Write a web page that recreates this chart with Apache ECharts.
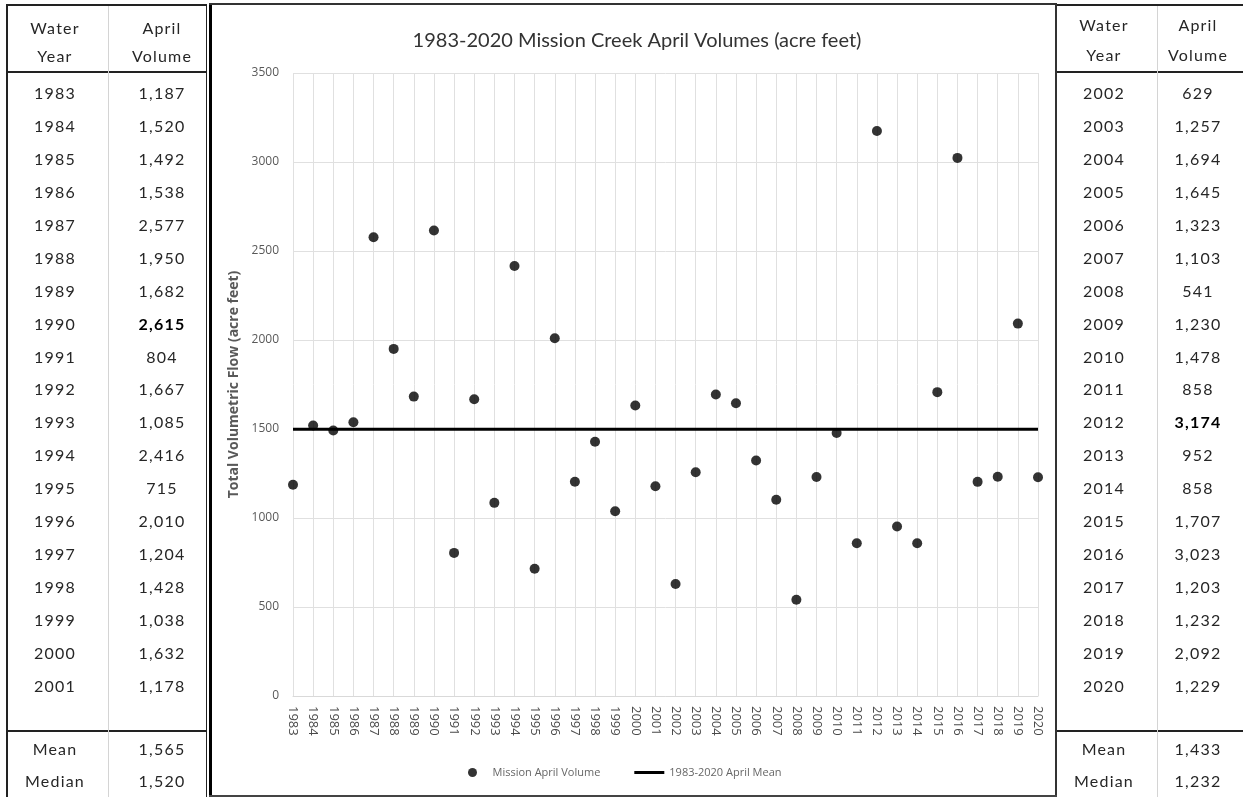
<!DOCTYPE html>
<html>
<head>
<meta charset="utf-8">
<script src="https://cdn.jsdelivr.net/npm/echarts@6/dist/echarts.min.js"></script>
<style>
  html, body { margin: 0; padding: 0; background: #fff; }
  body { width: 1243px; height: 797px; position: relative; overflow: hidden; font-family: Lato, "Open Sans", sans-serif; }
  #chart { position: absolute; left: 0; top: 0; width: 1243px; height: 797px; }
  .ln { position: absolute; background: #222; }
  .lt { position: absolute; background: #d4d4d4; }
  .cell { position: absolute; text-align: center; font-size: 16px; color: #262626; letter-spacing: 1.2px; line-height: 20px; }
  .cell b { font-weight: 700; color: #000; }
</style>
</head>
<body>
<div id="chart"></div>
<div id="tables"></div>
<script>
// water years and april volumes (acre feet)
var years = ['1983','1984','1985','1986','1987','1988','1989','1990','1991','1992',
  '1993','1994','1995','1996','1997','1998','1999','2000','2001','2002','2003',
  '2004','2005','2006','2007','2008','2009','2010','2011','2012','2013','2014',
  '2015','2016','2017','2018','2019','2020'];
var volumes = [1187, 1520, 1492, 1538, 2577, 1950, 1682, 2615, 804, 1667,
  1085, 2416, 715, 2010, 1204, 1428, 1038, 1632, 1178, 629, 1257,
  1694, 1645, 1323, 1103, 541, 1230, 1478, 858, 3174, 952, 858,
  1707, 3023, 1203, 1232, 2092, 1229];
var meanVolume = 1499;
var leftStats = [['Mean', '1,565'], ['Median', '1,520']];
var rightStats = [['Mean', '1,433'], ['Median', '1,232']];
var yTicks = { min: 0, max: 3500, step: 500 };

// ---- tables (html) ----
var box = document.getElementById('tables');
function add(cls, css, html) {
  var d = document.createElement('div');
  d.className = cls;
  d.style.cssText = css;
  if (html != null) d.innerHTML = html;
  box.appendChild(d);
}
function fmt(v) { return v.toLocaleString('en-US'); }

function table(x0, x1, colX, c1, c2, from, to, stats, headTop, headLh) {
  add('ln', 'left:' + x0 + 'px;top:4px;width:' + (x1 - x0) + 'px;height:2px;');
  add('ln', 'left:' + x0 + 'px;top:71px;width:' + (x1 - x0) + 'px;height:2px;');
  add('ln', 'left:' + x0 + 'px;top:730px;width:' + (x1 - x0) + 'px;height:2px;');
  add('lt', 'left:' + colX + 'px;top:6px;width:1px;height:797px;');
  var hs = 'top:' + headTop + 'px;width:100px;line-height:' + headLh + 'px;';
  add('cell', 'left:' + (c1 - 50) + 'px;' + hs, 'Water<br>Year');
  add('cell', 'left:' + (c2 - 50) + 'px;' + hs, 'April<br>Volume');
  var sub = volumes.slice(from, to);
  var mx = Math.max.apply(null, sub);
  for (var i = from; i < to; i++) {
    var y = 93 + (i - from) * 32.94 - 10;
    var v = fmt(volumes[i]);
    add('cell', 'left:' + (c1 - 50) + 'px;top:' + y + 'px;width:100px;', years[i]);
    add('cell', 'left:' + (c2 - 50) + 'px;top:' + y + 'px;width:100px;', volumes[i] === mx ? '<b>' + v + '</b>' : v);
  }
  stats.forEach(function (s, k) {
    var y = 749 + k * 32 - 10;
    add('cell', 'left:' + (c1 - 50) + 'px;top:' + y + 'px;width:100px;', s[0]);
    add('cell', 'left:' + (c2 - 50) + 'px;top:' + y + 'px;width:100px;', s[1]);
  });
}
// left table border
add('ln', 'left:6px;top:4px;width:2px;height:797px;');
add('ln', 'left:206px;top:4px;width:1px;height:797px;');
table(6, 207, 108, 55, 162, 0, 19, leftStats, 14, 28);
table(1057, 1243, 1157, 1104, 1198, 19, 38, rightStats, 10, 30);
// chart frame
add('ln', 'left:209px;top:3px;width:3px;height:794px;background:#000;');
add('ln', 'left:209px;top:3px;width:848px;height:2px;background:#333;');
add('ln', 'left:1055px;top:3px;width:2px;height:794px;background:#333;');
add('ln', 'left:209px;top:795px;width:848px;height:2px;background:#444;');

// ---- chart ----
var chart = echarts.init(document.getElementById('chart'), null, { renderer: 'canvas' });
var scatterData = years.map(function (y, i) { return [y, volumes[i]]; });
var axisFont = '"Open Sans", Lato, sans-serif';

chart.setOption({
  animation: false,
  textStyle: { fontFamily: 'Lato, "Open Sans", sans-serif' },
  title: {
    text: '1983-2020 Mission Creek April Volumes (acre feet)',
    left: 632, top: 26, textAlign: 'center',
    textStyle: { fontSize: 20, fontWeight: 'normal', color: '#333' }
  },
  grid: { left: 293, right: 205, top: 73, bottom: 101 },
  legend: {
    left: 463, top: 762,
    itemGap: 34,
    itemWidth: 30, itemHeight: 9,
    textStyle: { fontSize: 11, color: '#666', fontFamily: axisFont },
    data: [
      { name: 'Mission April Volume', icon: 'circle', itemStyle: { color: '#000' } },
      // thin bar icon, padded to the full item height by the move-to points
      { name: '1983-2020 April Mean', icon: 'path://M0,0 M0,9 M0,3 L30,3 L30,6 L0,6 Z', itemStyle: { color: '#000' } }
    ]
  },
  xAxis: {
    type: 'category',
    data: years,
    boundaryGap: false,
    axisLine: { lineStyle: { color: '#d9d9d9' } },
    axisTick: { show: false },
    splitLine: { show: true, interval: 0, lineStyle: { color: '#e0e0e0' } },
    axisLabel: { interval: 0, rotate: -90, fontSize: 13, color: '#4a4a4a', margin: 10, fontFamily: axisFont }
  },
  yAxis: {
    type: 'value',
    min: yTicks.min, max: yTicks.max, interval: yTicks.step,
    name: 'Total Volumetric Flow (acre feet)',
    nameLocation: 'middle', nameGap: 47, nameRotate: 90,
    nameTextStyle: { fontSize: 14, fontWeight: 'bold', color: '#595959', fontFamily: axisFont },
    axisLine: { show: false },
    axisTick: { show: false },
    splitLine: { lineStyle: { color: '#e0e0e0' } },
    axisLabel: { fontSize: 12, color: '#595959', margin: 14, fontFamily: axisFont,
      formatter: function (v) { return String(v); } }
  },
  series: [
    {
      name: '1983-2020 April Mean',
      type: 'line',
      data: [[years[0], meanVolume], [years[years.length - 1], meanVolume]],
      symbol: 'none',
      lineStyle: { color: '#000', width: 3 },
      itemStyle: { color: '#000' },
      z: 2
    },
    {
      name: 'Mission April Volume',
      type: 'scatter',
      data: scatterData,
      symbolSize: 10,
      itemStyle: { color: '#000' },
      z: 3
    }
  ]
});
</script>
</body>
</html>
